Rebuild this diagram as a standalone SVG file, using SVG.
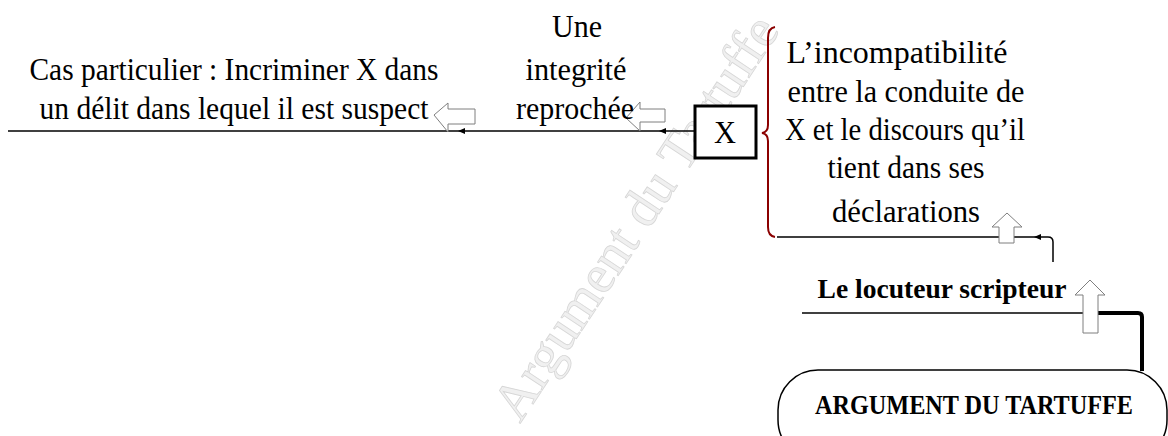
<svg xmlns="http://www.w3.org/2000/svg" width="1168" height="436" viewBox="0 0 1168 436">
<style>
.t{font-family:"Liberation Serif","DejaVu Serif",serif;font-size:31px;fill:#000;text-anchor:middle}
.b{font-weight:bold;font-size:28px}
.ln{stroke:#000;stroke-width:1.5;fill:none}
.hol{fill:#fff;stroke:#7f7f7f;stroke-width:1}
.hd{fill:#000}
.wm{font-family:"Liberation Serif","DejaVu Serif",serif;font-size:54px;fill:#f0f0f0;stroke:#d6d6d6;stroke-width:0.8}
</style>
<rect width="1168" height="436" fill="#fff"/>
<text class="wm" transform="translate(520,424) rotate(-56.5)" textLength="472" lengthAdjust="spacingAndGlyphs">Argument du Tartuffe</text>
<g id="connectors">
<line class="ln" x1="8" y1="131" x2="695" y2="131"/>
<polygon class="hd" points="458,131 465,128 465,134"/>
<polygon class="hd" points="659,131 666,128 666,134"/>
<path class="ln" d="M777,237 H1048 Q1053,237 1053,242 V262"/>
<polygon class="hd" points="1034,237 1041,234 1041,240"/>
<line class="ln" x1="802" y1="313" x2="1098" y2="313"/>
<path d="M1098,313 H1138 Q1142,313 1142,317 V371" fill="none" stroke="#000" stroke-width="4"/>
<polygon class="hol" points="434,115 448,103 448,109 475,109 475,124 448,124 448,132"/>
<polygon class="hol" points="626,118 640,102 640,109 665,109 665,122 640,122 640,131"/>
<polygon class="hol" points="1007,213 1022,227 1014,227 1014,243 999,243 999,227 992,227"/>
<polygon class="hol" points="1090,280 1105,295 1098,295 1098,333 1083,333 1083,295 1075,295"/>
</g>
<g id="cas">
<text class="t" x="234" y="80" textLength="409" lengthAdjust="spacingAndGlyphs">Cas particulier : Incriminer X dans</text>
<text class="t" x="234" y="119" textLength="389" lengthAdjust="spacingAndGlyphs">un délit dans lequel il est suspect</text>
</g>
<g id="integrite">
<text class="t" x="577" y="37" textLength="50" lengthAdjust="spacingAndGlyphs">Une</text>
<text class="t" x="576" y="80" textLength="101" lengthAdjust="spacingAndGlyphs">integrité</text>
<text class="t" x="575" y="119" textLength="118" lengthAdjust="spacingAndGlyphs">reprochée</text>
</g>
<g id="x">
<rect x="695" y="106" width="61" height="52" fill="#fff" stroke="#000" stroke-width="3"/>
<text class="t" x="725" y="143" textLength="22" lengthAdjust="spacingAndGlyphs">X</text>
</g>
<g id="incompatibilite">
<path d="M775,27 Q768,28 768,38 V125 Q768,132 762,133 Q768,134 768,141 V227 Q768,236 775,237" fill="none" stroke="#8b0000" stroke-width="2"/>
<text class="t" x="897" y="63" textLength="221" lengthAdjust="spacingAndGlyphs">L’incompatibilité</text>
<text class="t" x="906" y="102" textLength="237" lengthAdjust="spacingAndGlyphs">entre la conduite de</text>
<text class="t" x="905" y="140" textLength="240" lengthAdjust="spacingAndGlyphs">X et le discours qu’il</text>
<text class="t" x="906" y="178" textLength="157" lengthAdjust="spacingAndGlyphs">tient dans ses</text>
<text class="t" x="906" y="222" textLength="148" lengthAdjust="spacingAndGlyphs">déclarations</text>
</g>
<g id="locuteur">
<text class="t b" x="942" y="298" textLength="249" lengthAdjust="spacingAndGlyphs">Le locuteur scripteur</text>
</g>
<g id="argument">
<rect x="778" y="370" width="389" height="90" rx="40" ry="40" fill="#fff" stroke="#000" stroke-width="1.5"/>
<text class="t b" x="974" y="414" textLength="318" lengthAdjust="spacingAndGlyphs">ARGUMENT DU TARTUFFE</text>
</g>
</svg>
